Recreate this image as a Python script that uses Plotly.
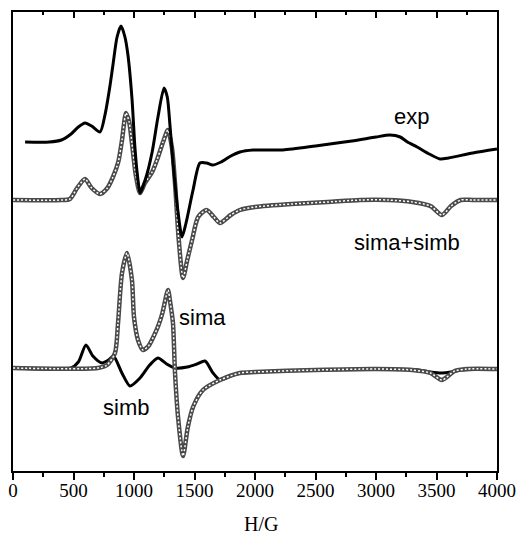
import plotly.graph_objects as go

# Magnetic field (G) and first-derivative EPR intensity (arb. units, relative to each trace's baseline)
exp_H = [100, 300, 400, 480, 540, 595, 650, 719, 760, 800, 826, 860, 893, 925, 950, 983, 1008, 1030,
         1050, 1100, 1150, 1198, 1248, 1275, 1297, 1322, 1364, 1397, 1430, 1488, 1545, 1600, 1650,
         1720, 1800, 1875, 1985, 2230, 2500, 2800, 3000, 3115, 3200, 3260, 3340, 3440, 3530, 3600,
         3800, 4000]
exp_I = [0, 0, 2, 8, 15, 19, 16, 10, 27, 55, 77, 105, 116, 105, 87, 44, -6, -35,
         -51, -35, -10, 25, 54, 45, 17, -20, -70, -95, -81, -48, -21, -21, -23,
         -20, -14, -10, -8, -8, -4, 1, 5, 7, 5, 0, -5, -12, -17, -16,
         -11, -7]

sum_H = [0, 400, 470, 530, 595, 650, 719, 780, 826, 870, 901, 934, 960, 983, 1015, 1050, 1090,
         1150, 1190, 1240, 1280, 1314, 1340, 1370, 1405, 1440, 1480, 1530, 1600, 1660, 1710, 1800,
         1875, 2000, 2300, 2600, 2870, 3100, 3300, 3450, 3545, 3620, 3700, 3800, 4000]
sum_I = [0, 0, 1, 12, 21, 12, 6, 12, 23, 38, 60, 87, 78, 57, 25, 7, 17,
         28, 40, 58, 70, 52, 15, -40, -78, -60, -40, -17, -10, -17, -23, -15,
         -10, -7, -4, -2, 0, 0, -2, -6, -15, -6, 0, 0, 0]

sima_H = [0, 700, 777, 843, 868, 901, 942, 983, 1000, 1033, 1074, 1120, 1160, 1200, 1235, 1281,
          1300, 1322, 1339, 1364, 1405, 1445, 1488, 1570, 1711, 1875, 2000, 2500, 3000, 3300, 3450,
          3545, 3650, 3750, 4000]
sima_I = [0, 0, 3, 15, 45, 95, 115, 88, 51, 28, 18, 22, 31, 42, 55, 78,
          65, 45, -5, -49, -88, -59, -39, -22, -12, -5, -4, -2, -1, -2, -5,
          -12, -3, -1, -1]

simb_H = [0, 480, 540, 603, 660, 735, 790, 830, 900, 967, 1050, 1130, 1198, 1270, 1340, 1440,
          1520, 1587, 1653, 1711, 1800, 1875, 2000, 2500, 3000, 3350, 3450, 3545, 3620, 3700, 4000]
simb_I = [0, 0, 6, 23, 12, 5, 8, 12, -5, -18, -10, 3, 10, 4, 0, 1,
          4, 7, -5, -12, -8, -5, -4, -2, -1, -2, -4, -5, -4, -2, -1]

# vertical stacking offsets of the three panels
offset_exp = 329
offset_sum = 271
offset_sim = 103

x_ticks = [0, 500, 1000, 1500, 2000, 2500, 3000, 3500, 4000]


def shifted(values, offset):
    return [v + offset for v in values]


def solid(x, y, xaxis="x"):
    return go.Scatter(x=x, y=y, mode="lines", hoverinfo="skip", xaxis=xaxis,
                      line=dict(color="black", width=3, shape="spline", smoothing=0.7))


def circles(x, y):
    # open-circle look: grey band with a broken white core
    return [
        go.Scatter(x=x, y=y, mode="lines", hoverinfo="skip",
                   line=dict(color="#4a4a4a", width=4.5, shape="spline", smoothing=0.7)),
        go.Scatter(x=x, y=y, mode="lines", hoverinfo="skip",
                   line=dict(color="white", width=1.5, dash="2px,2px", shape="spline", smoothing=0.7)),
    ]


fig = go.Figure()
# the experimental trace is placed on the top (mirror) axis so that axis gets drawn
fig.add_trace(solid(exp_H, shifted(exp_I, offset_exp), xaxis="x2"))
fig.add_trace(solid(sum_H, shifted(sum_I, offset_sum)))
for t in circles(sum_H, shifted(sum_I, offset_sum)):
    fig.add_trace(t)
fig.add_trace(solid(simb_H, shifted(simb_I, offset_sim)))
for t in circles(sima_H, shifted(sima_I, offset_sim)):
    fig.add_trace(t)

label_font = dict(family="Liberation Sans, Arial, sans-serif", size=22, color="black")
for text, hx, yy in [("exp", 3297, 355), ("sima+simb", 3256, 229), ("sima", 1570, 154), ("simb", 934, 64)]:
    fig.add_annotation(x=hx, y=yy, text=text, showarrow=False, font=label_font,
                       xanchor="center", yanchor="middle")

fig.add_annotation(x=2050, y=-0.1155, xref="x", yref="paper", text="H/G", showarrow=False,
                   font=dict(family="Liberation Serif, Times New Roman, serif", size=20, color="black"),
                   xanchor="center", yanchor="middle")

fig.update_layout(
    width=517, height=544,
    margin=dict(l=13, r=20, t=12, b=73, autoexpand=False),
    plot_bgcolor="white", paper_bgcolor="white",
    showlegend=False,
    xaxis=dict(range=[0, 4000], tickvals=x_ticks, ticks="outside", ticklen=7, tickwidth=1.5,
               tickcolor="black", showline=True, linewidth=2, linecolor="black",
               showgrid=False, zeroline=False, automargin=False, ticklabelstandoff=-6,
               minor=dict(dtick=250, tick0=0, ticks="outside", ticklen=4, tickwidth=1.5, tickcolor="black"),
               tickfont=dict(family="Liberation Serif, Times New Roman, serif", size=19, color="black")),
    xaxis2=dict(range=[0, 4000], overlaying="x", side="top", anchor="y", tickvals=x_ticks,
                ticks="inside", ticklen=6, tickwidth=1.5, tickcolor="black", showticklabels=False,
                showline=True, linewidth=2, linecolor="black", showgrid=False, zeroline=False,
                automargin=False,
                minor=dict(dtick=250, tick0=0, ticks="inside", ticklen=3, tickwidth=1.5, tickcolor="black")),
    yaxis=dict(range=[0, 459], showline=True, mirror=True, linewidth=2, linecolor="black",
               ticks="", showticklabels=False, showgrid=False, zeroline=False, automargin=False),
)

fig.write_html("out.html")
